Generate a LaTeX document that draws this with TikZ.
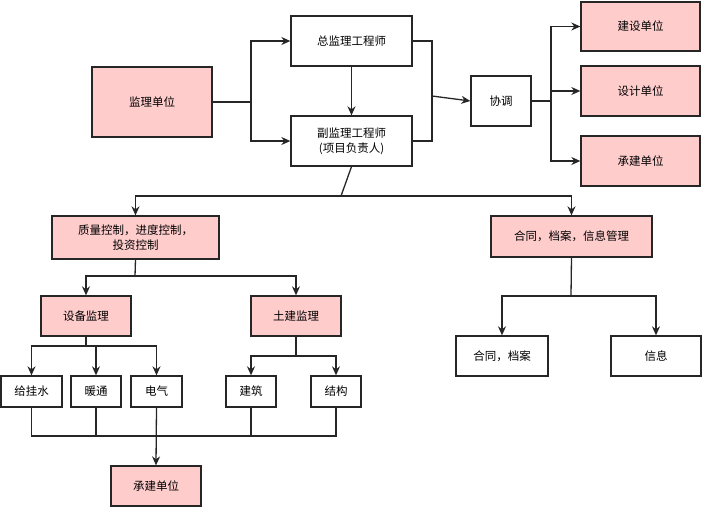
\documentclass[tikz,border=0pt]{standalone}
\usepackage{fontspec}
\setmainfont{Noto Sans CJK SC}
\usetikzlibrary{arrows.meta}
\begin{document}
\begin{tikzpicture}[x=1pt,y=-1pt,
  box/.style={draw=black!85,line width=1.3pt,fill=white,inner sep=1pt,align=center,font=\fontsize{11.5}{15}\selectfont},
  pk/.style={box,fill=red!20},
  ln/.style={draw=black!85,line width=1.3pt},
  ar/.style={ln,-{Stealth[length=9pt,width=8pt]}}]
\useasboundingbox (0,0) rectangle (702,507);
\newcommand\bx[6]{\node[#1,minimum width={#4-#2},minimum height={#5-#3}] (#6) at ({(#2+#4)/2},{(#3+#5)/2}) {};}
\bx{pk}{92}{67}{212}{137}{jl}
\bx{box}{291}{16}{412}{66}{zong}
\bx{box}{291}{116}{412}{166}{fu}
\bx{box}{471}{76}{531}{126}{xt}
\bx{pk}{581}{2}{700}{51}{js}
\bx{pk}{581}{66}{700}{116}{sj}
\bx{pk}{581}{136}{700}{186}{cj}
\bx{pk}{52}{216}{219}{259}{zl}
\bx{pk}{491}{216}{652}{257}{ht}
\bx{pk}{41}{296}{131}{336}{sb}
\bx{pk}{251}{296}{341}{336}{tj}
\bx{box}{456}{336}{548}{376}{hd}
\bx{box}{611}{336}{701}{376}{xx}
\bx{box}{1}{376}{62}{407}{gs}
\bx{box}{71}{376}{121}{407}{nt}
\bx{box}{131}{376}{182}{407}{dq}
\bx{box}{226}{376}{276}{407}{jz}
\bx{box}{311}{376}{361}{407}{jg}
\bx{pk}{111}{466}{201}{506}{cj2}
\path[font=\fontsize{11.5}{15}\selectfont,align=center]
 (jl) node{监理单位} (zong) node{总监理工程师} (fu) node{副监理工程师\\(项目负责人)}
 (xt) node{协调} (js) node{建设单位} (sj) node{设计单位} (cj) node{承建单位}
 (zl) node{质量控制，进度控制，\\投资控制} (ht) node{合同，档案，信息管理}
 (sb) node{设备监理} (tj) node{土建监理} (hd) node{合同，档案} (xx) node{信息}
 (gs) node{给挂水} (nt) node{暖通} (dq) node{电气} (jz) node{建筑} (jg) node{结构} (cj2) node{承建单位};
\coordinate (a1) at (251,102);
\draw[ln] (jl.east) -- (a1);
\draw[ar] (a1) |- (zong.west);
\draw[ar] (a1) |- (fu.west);
\draw[ar] (zong) -- (fu);
\coordinate (a2) at (432,96);
\draw[ln] (zong.east) -| (a2) |- (fu.east);
\draw[ar] (a2) -- (xt.west);
\coordinate (a3) at (551,101);
\draw[ln] (xt.east) -- (a3);
\draw[ar] (a3) |- (js.west);
\draw[ar] (a3) |- (sj.west);
\draw[ar] (a3) |- (cj.west);
\coordinate (b1) at (341,196);
\draw[ln] (fu.south) -- (b1);
\draw[ar] (b1) -| (zl.north);
\draw[ar] (b1) -| (ht.north);
\coordinate (b2) at (135,276);
\draw[ln] (zl.south) -- (b2);
\draw[ar] (b2) -| (sb.north);
\draw[ar] (b2) -| (tj.north);
\coordinate (b3) at (86,346);
\draw[ln] (sb.south) -- (b3);
\draw[ar] (b3) -| (gs.north);
\draw[ar] (b3) -| (nt.north);
\draw[ar] (b3) -| (dq.north);
\coordinate (b4) at (296,356);
\draw[ln] (tj.south) -- (b4);
\draw[ar] (b4) -| (jz.north);
\draw[ar] (b4) -| (jg.north);
\coordinate (b5) at (571,296);
\draw[ln] (ht.south) -- (b5);
\draw[ar] (b5) -| (hd.north);
\draw[ar] (b5) -| (xx.north);
\coordinate (c1) at (156.5,436);
\draw[ln] (gs.south) |- (c1);
\draw[ln] (nt.south) |- (c1);
\draw[ln] (jz.south) |- (c1);
\draw[ln] (jg.south) |- (c1);
\draw[ar] (dq.south) -- (cj2.north);
\end{tikzpicture}
\end{document}
